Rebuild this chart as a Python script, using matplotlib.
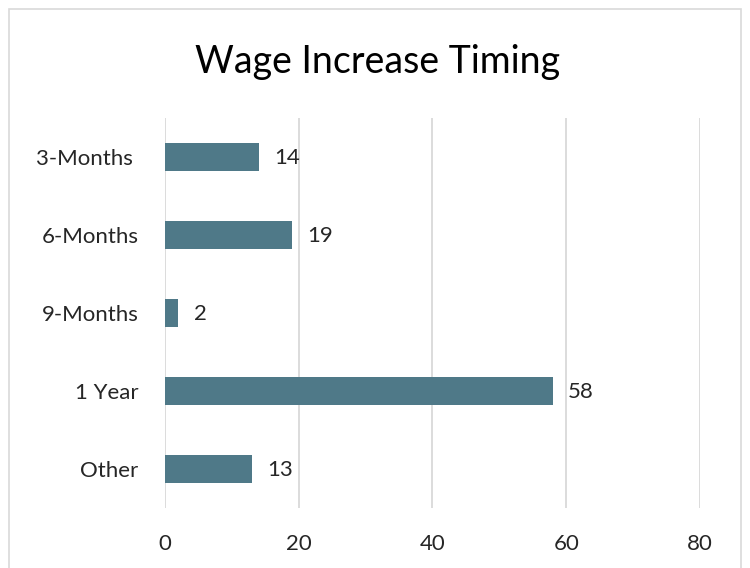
import matplotlib
matplotlib.use("Agg")
import matplotlib.pyplot as plt
from matplotlib.patches import Rectangle

plt.rcParams['font.family'] = ['Lato', 'DejaVu Sans']

# data
categories = ["3-Months ", "6-Months", "9-Months", "1 Year", "Other"]
counts = [14, 19, 2, 58, 13]
x_ticks = [0, 20, 40, 60, 80]

bar_color = "#4F7988"
grid_color = "#D9D9D9"
text_color = "#262626"

fig = plt.figure(figsize=(7.5, 5.68), dpi=100)
ax = fig.add_axes([0.22, 0.1056, 0.7133, 0.6867])

# chart-area border, cut off at the bottom as in the reference
fig.patches.append(Rectangle((0.012, -0.05), 0.976, 1.035, transform=fig.transFigure,
                             fill=False, edgecolor=grid_color, linewidth=1.2))

ypos = list(range(len(categories)))
ax.barh(ypos, counts, height=0.35, color=bar_color, zorder=3)
for y, v in zip(ypos, counts):
    ax.annotate(str(v), (v, y), xytext=(11, -1), textcoords="offset points",
                va="center", ha="left", fontsize=16, color=text_color)

ax.set_xlim(0, 80)
ax.set_ylim(len(categories) - 0.5, -0.5)
ax.set_xticks(x_ticks)
ax.set_yticks(ypos)
ax.set_yticklabels(categories)
ax.tick_params(axis="both", length=0, labelsize=16, labelcolor=text_color)
ax.tick_params(axis="x", pad=19)
ax.tick_params(axis="y", pad=19)
ax.grid(axis="x", color=grid_color, linewidth=1.3, zorder=0)
for s in ax.spines.values():
    s.set_visible(False)

fig.text(0.504, 0.89, "Wage Increase Timing", ha="center", va="center",
         fontsize=27, color="black")

fig.savefig("out.png", dpi=100)
